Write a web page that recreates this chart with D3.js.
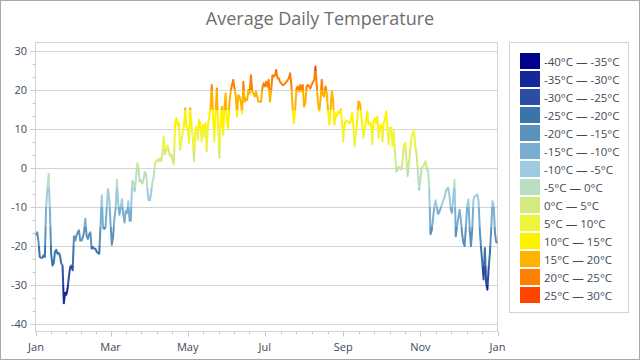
<!DOCTYPE html>
<html><head><meta charset="utf-8">
<script src="https://cdn.jsdelivr.net/npm/d3@7"></script>
<style>
html,body{margin:0;padding:0;background:#fff;}
svg{display:block;font-family:"Open Sans","Noto Sans",sans-serif;}
</style></head>
<body><svg id="chart" width="640" height="360"></svg>
<script>
// ---- data ----
const startDate = new Date(2023, 0, 1);
const temps = [
-17.3,-16.5,-19,-22.8,-23,-23,-22.4,-22.8,-10,-5.4,-1.5,-11,-22,-25,-24.5,-21.5,-21,-22,-21.8,-22.5,
-24.5,-25,-34.7,-32,-32.5,-30.9,-27.9,-25.4,-25,-26.2,-17.5,-18.6,-17.3,-16.5,-16,-18.6,-18.6,-17.8,-16.4,-13,
-17.3,-18.2,-17,-16.5,-20.7,-20.3,-20.7,-20.7,-21.5,-21.8,-22,-15,-7,-15.1,-15.6,-15.1,-10,-5.4,-8.3,-14.5,
-19.7,-17.5,-13,-10.5,-3,-9,-12,-10,-8,-12,-14,-11,-11.5,-8.5,-13.5,-13.5,-3.4,-3.4,-6,-3,
1.2,0.4,-3.5,-3,-4,-3,-1,-1.5,-5,-8.2,-8.3,-6.5,-3.8,-2.5,1,1.7,2.1,1.7,2.5,1.8,
3.5,8,3.5,4.5,5.8,4.5,3,3.5,2,1,11.5,12.8,11,11.5,4.7,6.8,9.2,10.5,
15.3,10.6,10.2,6.4,15.3,10.6,7.7,1.7,9.8,10.6,7.2,12.3,11.1,6.8,11.1,8.1,11.5,4.3,11.1,13,
15.3,21.3,14,6.8,14,20.4,11.1,2.6,11.9,15.7,8.5,15.3,19.1,11.9,10.2,17,19.6,21.3,22.6,20.5,
18.3,13.2,18.7,18.3,17,14,22.1,17,17.9,17.4,20,19.1,23.8,19.6,19.1,18.3,19.6,18.3,17,17,
17,20.4,
21.7,20.9,22.1,20.9,22.6,17,20,23.8,23.4,23.8,25.1,23,23,22.1,21.7,21.3,21.3,21.7,22.1,22.5,
23,24.3,21.3,15.3,11.5,15.3,20.4,20.9,19.6,21.3,19.6,21.3,15.7,16.6,20.9,21.3,20.9,20.4,21.3,22,
22.6,26,21.3,17,14.5,17.4,22.6,18.7,18.3,20.9,19.1,14.5,11.1,15.3,19.6,17.4,11.1,14,13.2,
14.5,14.1,15,12,6.8,11.1,12,12,12,11.5,12,14.1,10.7,5.6,9,12,17.1,16.7,14.5,11,
7.7,10.3,12,14.5,11.1,11.5,11.5,6,12,12.8,11.5,13.2,7.7,10.7,11.1,6.8,11.5,12.4,14.5,10,
6,10.3,10.3,5.6,9.4,3.4,-0.9,-0.4,0.4,0,-0.4,2.1,6,6.4,2.1,-2.1,1.3,4.7,7.7,9,
9.8,5.6,3.4,-0.9,-5.6,-3,0,0.4,
0.9,1.7,-0.4,0,-5.1,-17,-16,-13,-10,-8.3,-10,-11.8,-11.3,-10.3,-9.4,-8.5,-7.5,-6.2,-5.3,-5,
-7,-10.7,-11.5,-7.5,-3,-17.5,-15,-12.8,-10.7,-13.2,-16.7,-19.2,-20,-15,-9.8,-8.1,-15.8,-20,-15.8,-8.1,
-7.3,-7,-6.8,-8.5,-15.8,-20.5,-24.4,-28.6,-20.5,-29.5,-31.2,-25.6,-21.8,-15.8,-8.5,-9.8,-16.7,-19,-19.2
];
const bandLows = [-40,-35,-30,-25,-20,-15,-10,-5,0,5,10,15,20,25];
const bandColors = ["#00008b","#14289a","#2b4ea2","#3b73ab","#5a91bd","#79aed0","#9dcae0","#b9dfc1",
                    "#d5ea7e","#eef53c","#fff200","#ffb300","#ff7f00","#ff4500"];
const legendLabels = ["-40°C — -35°C","-35°C — -30°C","-30°C — -25°C","-25°C — -20°C","-20°C — -15°C",
  "-15°C — -10°C","-10°C — -5°C","-5°C — 0°C","0°C — 5°C","5°C — 10°C","10°C — 15°C",
  "15°C — 20°C","20°C — 25°C","25°C — 30°C"];
const yTickValues = [-40,-30,-20,-10,0,10,20,30];
const titleText = "Average Daily Temperature";

// ---- chart ----
const svg = d3.select("#chart");
const W = 640, H = 360;
const plot = {left: 35.5, right: 497.5, top: 42.5, bottom: 331.5};

svg.append("rect").attr("x",0.5).attr("y",0.5).attr("width",W-1).attr("height",H-1)
  .attr("fill","#fff").attr("stroke","#a9a9a9");

svg.append("text").attr("x",320).attr("y",25).attr("text-anchor","middle")
  .attr("font-size",18).attr("fill","#6e6e6e").text(titleText);

const data = temps.map((v,i)=>({date:d3.timeDay.offset(startDate,i), value:v}));
const x = d3.scaleTime().domain([startDate, new Date(2024,0,1)]).range([36, 497.5]);
const y = d3.scaleLinear().domain([-40,30]).range([324,51]);

// plot border
svg.append("rect").attr("x",plot.left).attr("y",plot.top)
  .attr("width",plot.right-plot.left).attr("height",plot.bottom-plot.top)
  .attr("fill","none").attr("stroke","#d3d3d3");

// gridlines
svg.append("g").selectAll("line").data(yTickValues).join("line")
  .attr("x1",plot.left).attr("x2",plot.right)
  .attr("y1",d=>Math.round(y(d))+0.5).attr("y2",d=>Math.round(y(d))+0.5)
  .attr("stroke","#d3d3d3");

// y axis ticks & labels
const yMinor = [];
yTickValues.slice(0,-1).forEach(t=>{ yMinor.push(t+10/3, t+20/3); });
svg.append("g").selectAll("line").data(yTickValues).join("line")
  .attr("x1",plot.left-5).attr("x2",plot.left)
  .attr("y1",d=>Math.round(y(d))+0.5).attr("y2",d=>Math.round(y(d))+0.5).attr("stroke","#c8c8c8");
svg.append("g").selectAll("line").data(yMinor).join("line")
  .attr("x1",plot.left-3).attr("x2",plot.left)
  .attr("y1",d=>Math.round(y(d))+0.5).attr("y2",d=>Math.round(y(d))+0.5).attr("stroke","#c8c8c8");
svg.append("g").selectAll("text").data(yTickValues).join("text")
  .attr("x",27).attr("y",d=>y(d)+4).attr("text-anchor","end")
  .attr("font-size",11).attr("fill","#3c4a5a").text(d=>d);

// x axis ticks & labels
const xTicks = x.ticks(d3.timeMonth.every(2));
const xMinor = [];
for (let i=0;i<xTicks.length-1;i++){
  const a = x(xTicks[i]), b = x(xTicks[i+1]);
  for (let k=1;k<5;k++) xMinor.push(a+(b-a)*k/5);
}
svg.append("g").selectAll("line").data(xTicks).join("line")
  .attr("x1",d=>Math.round(x(d))+0.5).attr("x2",d=>Math.round(x(d))+0.5)
  .attr("y1",plot.bottom).attr("y2",plot.bottom+5).attr("stroke","#c8c8c8");
svg.append("g").selectAll("line").data(xMinor).join("line")
  .attr("x1",d=>Math.round(d)+0.5).attr("x2",d=>Math.round(d)+0.5)
  .attr("y1",plot.bottom).attr("y2",plot.bottom+3).attr("stroke","#c8c8c8");
svg.append("g").selectAll("text").data(xTicks).join("text")
  .attr("x",d=>x(d)).attr("y",351).attr("text-anchor","middle")
  .attr("font-size",11).attr("fill","#3c4a5a").text(d3.timeFormat("%b"));

// gradient by value
const defs = svg.append("defs");
const grad = defs.append("linearGradient").attr("id","tempGrad")
  .attr("gradientUnits","userSpaceOnUse")
  .attr("x1",0).attr("x2",0).attr("y1",y(-40)).attr("y2",y(30));
bandLows.forEach((lo,i)=>{
  grad.append("stop").attr("offset",(lo+40)/70).attr("stop-color",bandColors[i]);
  grad.append("stop").attr("offset",(lo+5+40)/70).attr("stop-color",bandColors[i]);
});

const line = d3.line().x(d=>x(d.date)).y(d=>y(d.value));
svg.append("path").datum(data).attr("d",line)
  .attr("fill","none").attr("stroke","url(#tempGrad)").attr("stroke-width",2)
  .attr("stroke-linejoin","round");

// legend
const lg = svg.append("g");
lg.append("rect").attr("x",509.5).attr("y",42.5).attr("width",119).attr("height",270)
  .attr("fill","#fff").attr("stroke","#d3d3d3");
const items = lg.selectAll("g.item").data(legendLabels).join("g")
  .attr("transform",(d,i)=>`translate(520,${53+i*18})`);
items.append("rect").attr("width",20).attr("height",16).attr("fill",(d,i)=>bandColors[i]);
items.append("text").attr("x",24).attr("y",12.5).attr("font-size",11.5)
  .attr("fill","#3c4a5a").text(d=>d);
</script></body></html>
